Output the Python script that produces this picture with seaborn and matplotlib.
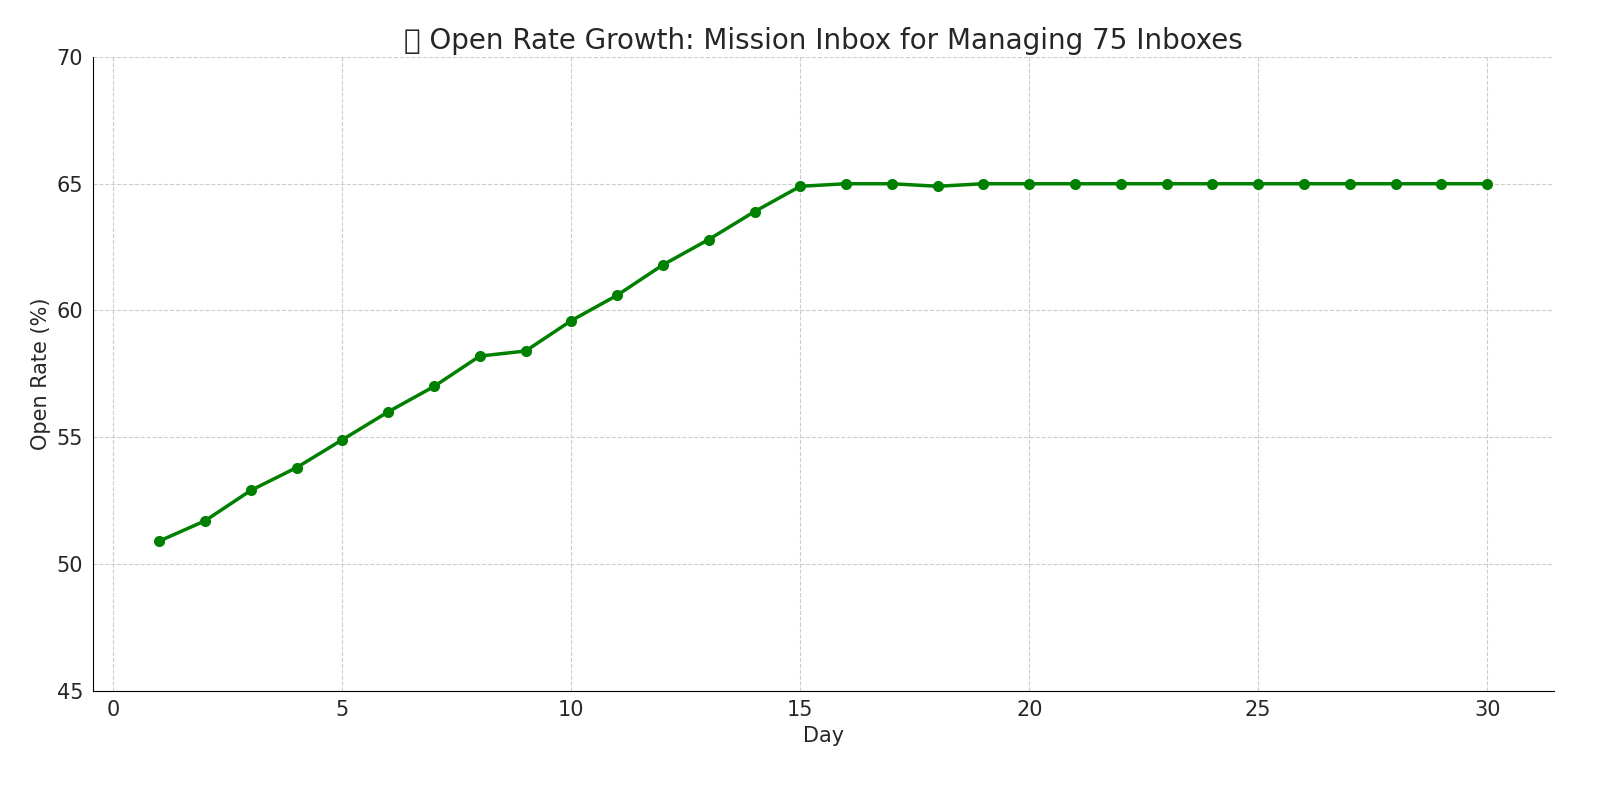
import matplotlib
matplotlib.use("Agg")
import matplotlib.pyplot as plt
import seaborn as sns
import pandas as pd

# Datos
days = list(range(1, 31))
open_rate = [50.9, 51.7, 52.9, 53.8, 54.9, 56.0, 57.0, 58.2, 58.4, 59.6,
             60.6, 61.8, 62.8, 63.9, 64.9, 65.0, 65.0, 64.9, 65.0, 65.0,
             65.0, 65.0, 65.0, 65.0, 65.0, 65.0, 65.0, 65.0, 65.0, 65.0]

df = pd.DataFrame({"Day": days, "Open Rate": open_rate})

sns.set_style("whitegrid", {"grid.linestyle": "--", "grid.color": "#cccccc"})
fig, ax = plt.subplots(figsize=(16, 7.92), dpi=100)

sns.lineplot(data=df, x="Day", y="Open Rate", marker="o", color="green",
             linewidth=2.5, markersize=8, markeredgewidth=0, ax=ax)

ax.set_ylim(45, 70)
ax.set_title("\U0001F4C8 Open Rate Growth: Mission Inbox for Managing 75 Inboxes",
             fontsize=20, color="#262626")
ax.set_xlabel("Day", fontsize=15)
ax.set_ylabel("Open Rate (%)", fontsize=15)
ax.tick_params(labelsize=15)
sns.despine(ax=ax)
for s in ["left", "bottom"]:
    ax.spines[s].set_color("black")

plt.subplots_adjust(left=0.058, right=0.971, top=0.928, bottom=0.128)
plt.savefig("out.png")
